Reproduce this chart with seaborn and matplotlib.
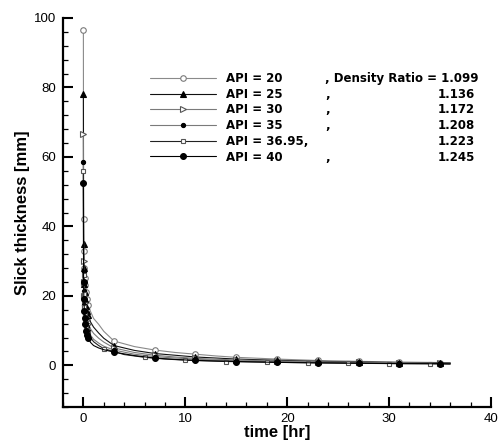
import matplotlib
matplotlib.use("Agg")
import matplotlib.pyplot as plt
from matplotlib.ticker import MultipleLocator
import seaborn as sns
import pandas as pd

# ---- data ----
api_labels = ["API = 20", "API = 25", "API = 30", "API = 35", "API = 36.95,", "API = 40"]
density_ratios = ["1.099", "1.136", "1.172", "1.208", "1.223", "1.245"]

t_std = [0, 0.02, 0.05, 0.1, 0.15, 0.2, 0.3, 0.4, 0.5, 0.7, 1.0, 1.5, 2.0,
         3, 5, 7, 9, 11, 13, 15, 19, 23, 27, 31, 35, 36]
t_sq = [0, 0.02, 0.05, 0.1, 0.15, 0.2, 0.3, 0.4, 0.5, 0.7, 1.0, 1.5, 2.0,
        4, 6, 8, 10, 14, 18, 22, 26, 30, 34, 36]

h_api20 = [96.5, 42, 33, 28, 25, 23, 21, 19, 17.5, 15.5, 13.5, 11.8, 9.8,
           7.0, 5.4, 4.4, 3.7, 3.2, 2.7, 2.3, 1.8, 1.4, 1.15, 0.95, 0.8, 0.75]
h_api25 = [78, 35, 28, 23.5, 21, 19, 17, 15.5, 14.5, 12.5, 11, 9.3, 7.8,
           5.7, 4.3, 3.4, 2.9, 2.4, 2.1, 1.8, 1.45, 1.15, 0.95, 0.8, 0.7, 0.65]
h_api30 = [66.5, 30, 24, 20, 18, 16, 14, 13, 12, 10.5, 9.2, 7.8, 6.7,
           5.0, 3.7, 2.9, 2.4, 2.0, 1.75, 1.55, 1.25, 1.0, 0.85, 0.72, 0.62, 0.58]
h_api35 = [58.5, 27, 21.5, 17.5, 15.5, 13.5, 12, 11, 10, 8.7, 7.5, 6.4, 5.5,
           4.4, 3.2, 2.5, 2.1, 1.75, 1.5, 1.35, 1.05, 0.88, 0.75, 0.62, 0.52, 0.5]
h_api3695 = [56, 26, 20.5, 16.8, 14.8, 13, 11.3, 10.2, 9.3, 8.0, 6.8, 5.7, 4.8,
             3.1, 2.3, 1.8, 1.5, 1.1, 0.9, 0.75, 0.6, 0.5, 0.45, 0.4]
h_api40 = [52.5, 24, 19, 15.5, 13.5, 12, 10, 8.8, 7.8, 6.6, 5.7, 5.0, 4.5,
           3.8, 2.8, 2.1, 1.7, 1.4, 1.25, 1.1, 0.85, 0.7, 0.6, 0.5, 0.45, 0.4]

mark_std = [0, 0.02, 0.05, 0.1, 0.15, 0.2, 0.3, 0.4, 0.5, 3, 7, 11, 15, 19, 23, 27, 31, 35]
mark_sq = [0, 0.02, 0.05, 0.1, 0.15, 0.2, 0.3, 0.4, 0.5, 2, 6, 10, 14, 18, 22, 26, 30, 34]

series = [
    (h_api20, t_std, mark_std, dict(color="#8a8a8a", marker="o", mfc="white", mec="#7a7a7a", ms=4.0)),
    (h_api25, t_std, mark_std, dict(color="#111111", marker="^", mfc="black", mec="black", ms=4.0)),
    (h_api30, t_std, mark_std, dict(color="#7a7a7a", marker=">", mfc="white", mec="#555555", ms=4.2)),
    (h_api35, t_std, mark_std, dict(color="#7a7a7a", marker="o", mfc="black", mec="black", ms=3.0)),
    (h_api3695, t_sq, mark_sq, dict(color="#222222", marker="s", mfc="white", mec="#555555", ms=3.4)),
    (h_api40, t_std, mark_std, dict(color="#000000", marker="o", mfc="black", mec="black", ms=4.2)),
]

sns.set_style("ticks")
plt.rcParams["font.family"] = ["Liberation Sans", "DejaVu Sans"]
plt.rcParams["text.color"] = "black"
plt.rcParams["axes.labelcolor"] = "black"

fig = plt.figure(figsize=(5.04, 4.47), dpi=100)
ax = fig.add_axes([63 / 504, 1 - 407 / 447, (491 - 63) / 504, (407 - 18) / 447])

for (h, tt, mk, st), lab in zip(series, api_labels):
    df = pd.DataFrame({"t": tt, "h": h})
    idx = [i for i, v in enumerate(tt) if v in mk]
    sns.lineplot(data=df, x="t", y="h", ax=ax, label=lab, lw=0.8,
                 markevery=idx, mew=0.8, estimator=None, sort=False, **st)

ax.set_xlim(-2, 40)
ax.set_ylim(-12, 100)
ax.xaxis.set_major_locator(MultipleLocator(10))
ax.xaxis.set_minor_locator(MultipleLocator(2))
ax.yaxis.set_major_locator(MultipleLocator(20))
ax.yaxis.set_minor_locator(MultipleLocator(4))
ax.tick_params(which="both", direction="in", colors="black", labelsize=9.5, pad=4)
ax.tick_params(which="major", length=7, width=1.5)
ax.tick_params(which="minor", length=3.5, width=0.9)
ax.tick_params(axis="y", which="both", pad=5)
for s in ["top", "right"]:
    ax.spines[s].set_visible(False)
for s in ["left", "bottom"]:
    ax.spines[s].set_linewidth(1.6)
    ax.spines[s].set_color("black")

ax.set_xlabel("time [hr]", fontsize=12, fontweight="bold", labelpad=0, color="black")
ax.set_ylabel("Slick thickness [mm]", fontsize=12, fontweight="bold", labelpad=3, color="black")

leg_font = dict(family="DejaVu Sans", size=8.5, weight="bold")
leg = ax.legend(loc="upper left", bbox_to_anchor=(150 / 504, 1 - 72 / 447),
                bbox_transform=fig.transFigure, frameon=False,
                handlelength=5.6, handletextpad=0.85, labelspacing=0.23,
                borderpad=0, borderaxespad=0, prop=leg_font)
for txt in leg.get_texts():
    txt.set_color("black")

fig.canvas.draw()
inv = fig.transFigure.inverted()
for i, txt in enumerate(leg.get_texts()):
    bb = txt.get_window_extent()
    y0 = inv.transform((0, bb.y0))[1]
    if i == 0:
        fig.text(325 / 504, y0, ", Density Ratio = " + density_ratios[i], ha="left",
                 va="bottom", fontdict=leg_font, color="black")
        continue
    if not api_labels[i].endswith(","):
        fig.text(325 / 504, y0, ",", ha="left", va="bottom", fontdict=leg_font, color="black")
    fig.text(475 / 504, y0, density_ratios[i], ha="right", va="bottom",
             fontdict=leg_font, color="black")

fig.savefig("out.png", dpi=100)
